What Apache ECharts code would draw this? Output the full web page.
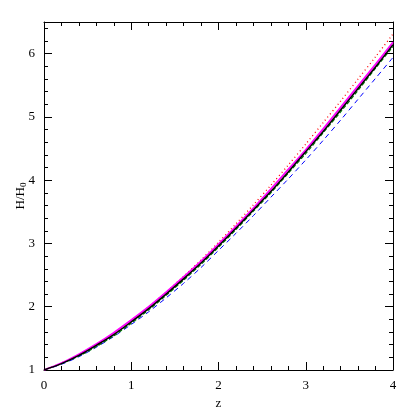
<!DOCTYPE html>
<html>
<head>
<meta charset="utf-8">
<script src="https://cdn.jsdelivr.net/npm/echarts@6/dist/echarts.min.js"></script>
<style>
  html, body { margin: 0; padding: 0; background: #fff; }
  #chart { width: 415px; height: 415px; }
</style>
</head>
<body>
<div id="chart"></div>
<script>
// redshift samples
const zVals = [0, 0.2, 0.4, 0.6, 0.8, 1.0, 1.2, 1.4, 1.6, 1.8, 2.0, 2.2, 2.4, 2.6, 2.8, 3.0, 3.2, 3.4, 3.6, 3.8, 4.0]

// H/H0
const blackSolid = [1.00, 1.10, 1.23, 1.39, 1.56, 1.76, 1.97, 2.20, 2.44, 2.69, 2.96, 3.24, 3.53, 3.82, 4.13, 4.45, 4.77, 5.11, 5.45, 5.79, 6.14]
const magentaSolid = [1.00, 1.11, 1.25, 1.41, 1.59, 1.79, 2.00, 2.23, 2.47, 2.72, 2.99, 3.27, 3.56, 3.86, 4.17, 4.48, 4.81, 5.15, 5.49, 5.83, 6.18]
const redDotted = [1.00, 1.11, 1.24, 1.40, 1.58, 1.78, 2.00, 2.23, 2.48, 2.74, 3.02, 3.31, 3.61, 3.92, 4.24, 4.57, 4.91, 5.25, 5.60, 5.95, 6.31]
const greenDashed = [1.00, 1.10, 1.22, 1.37, 1.54, 1.74, 1.95, 2.18, 2.42, 2.67, 2.94, 3.22, 3.51, 3.80, 4.11, 4.42, 4.75, 5.08, 5.42, 5.77, 6.11]
const blueDashed = [1.00, 1.09, 1.21, 1.36, 1.53, 1.72, 1.92, 2.14, 2.37, 2.62, 2.89, 3.16, 3.44, 3.73, 4.02, 4.32, 4.63, 4.95, 5.28, 5.61, 5.94]

const font = 'Liberation Serif'

const pairs = (ys) => zVals.map((z, i) => [z, ys[i]])

const mkLine = (ys, color, width, dash) => ({
  type: 'line',
  data: pairs(ys),
  smooth: 0.3,
  showSymbol: false,
  symbol: 'none',
  lineStyle: { color: color, width: width, type: dash },
  animation: false
})

const tickStyle = {
  axisLine: { show: true, onZero: false, lineStyle: { color: '#000', width: 1 } },
  axisTick: { show: true, inside: true, length: 8, lineStyle: { color: '#000' } },
  minorTick: { show: true, splitNumber: 5, length: 4, lineStyle: { color: '#000' } },
  splitLine: { show: false }
}

const chart = echarts.init(document.getElementById('chart'))
chart.setOption({
  backgroundColor: '#fff',
  animation: false,
  grid: { left: 44, right: 22, top: 22, bottom: 45, outerBoundsMode: 'none', containLabel: false },
  xAxis: [
    Object.assign({
      type: 'value', min: 0, max: 4, interval: 1, position: 'bottom',
      name: 'z', nameLocation: 'middle', nameGap: 24,
      nameTextStyle: { fontFamily: font, fontSize: 13, color: '#000' },
      axisLabel: { fontFamily: font, fontSize: 13, color: '#000', margin: 9 }
    }, tickStyle),
    Object.assign({
      type: 'value', min: 0, max: 4, interval: 1, position: 'top',
      axisLabel: { show: false }
    }, tickStyle)
  ],
  yAxis: [
    Object.assign({
      type: 'value', min: 1, max: 6.5, interval: 1, position: 'left',
      name: '{a|H/H}{b|0}', nameLocation: 'middle', nameGap: 16, nameRotate: 90,
      nameMoveOverlap: false,
      nameTextStyle: {
        fontFamily: font, fontSize: 13, color: '#000',
        rich: {
          a: { fontFamily: font, fontSize: 13, color: '#000' },
          b: { fontFamily: font, fontSize: 9, color: '#000', padding: [6, 0, 0, 0] }
        }
      },
      axisLabel: { fontFamily: font, fontSize: 13, color: '#000', margin: 9, showMaxLabel: false }
    }, tickStyle),
    Object.assign({
      type: 'value', min: 1, max: 6.5, interval: 1, position: 'right',
      axisLabel: { show: false }
    }, tickStyle)
  ],
  series: [
    mkLine(redDotted, '#ff0000', 1.3, [1, 3]),
    mkLine(blueDashed, '#0000ff', 1, [5, 4]),
    mkLine(greenDashed, '#008000', 1.2, [4, 2]),
    mkLine(magentaSolid, '#ff00ff', 1.8, 'solid'),
    mkLine(blackSolid, '#000000', 1.5, 'solid')
  ]
})
</script>
</body>
</html>
